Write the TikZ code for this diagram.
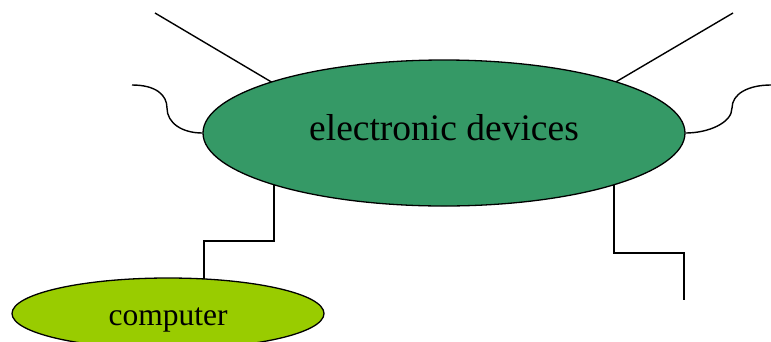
\documentclass[tikz,border=0pt]{standalone}
\usepackage{fontspec}
\setmainfont{Liberation Serif}
\usetikzlibrary{shapes.geometric,backgrounds}
\definecolor{devgreen}{HTML}{359966}
\definecolor{pcgreen}{HTML}{99CC00}
\tikzset{
  blob/.style={ellipse, draw=black, line width=1.3pt, inner sep=0pt},
  wire/.style={draw=black, line width=1.4pt}
}
\begin{document}
\begin{tikzpicture}[x=1pt,y=-1pt]
\useasboundingbox (0,0) rectangle (771,341);
% central device
\node[blob, fill=devgreen, minimum width=482pt, minimum height=146pt,
      text height=15pt, text depth=0pt,
      font=\fontsize{37.5}{40}\selectfont] (dev) at (444,133) {electronic devices};
% computer, partly below the frame
\node[blob, fill=pcgreen, minimum width=312pt, minimum height=71pt,
      text height=23pt, text depth=0pt,
      font=\fontsize{31.5}{36}\selectfont] (comp) at (168,313.5) {computer};
% loose ends and bends
\coordinate (ulend) at (155,13);
\coordinate (ulin)  at (290,93);
\coordinate (urend) at (733,13);
\coordinate (urin)  at (597,93);
\coordinate (lcend) at (132,85);
\coordinate (rcend) at (771,85);
\coordinate (blknee) at (274,241);
\coordinate (bldrop) at (204,313);
\coordinate (brknee) at (614,253);
\coordinate (brend) at (684,300);
% leads run behind the ellipses
\begin{pgfonlayer}{background}
  \draw[wire] (ulend) -- (ulin);
  \draw[wire] (urend) -- (urin);
  \draw[wire] (lcend) .. controls (156,85) and (167,95) .. (167,108)
                     .. controls (167,123) and (182,133) .. (dev.west);
  \draw[wire] (dev.east) .. controls (708,133) and (732,123) .. (732,108)
                        .. controls (732,94) and (748,85) .. (rcend);
  \draw[wire] (blknee |- dev.center) -- (blknee) -| (bldrop);
  \draw[wire] (brknee |- dev.center) -- (brknee) -| (brend);
\end{pgfonlayer}
\end{tikzpicture}
\end{document}
